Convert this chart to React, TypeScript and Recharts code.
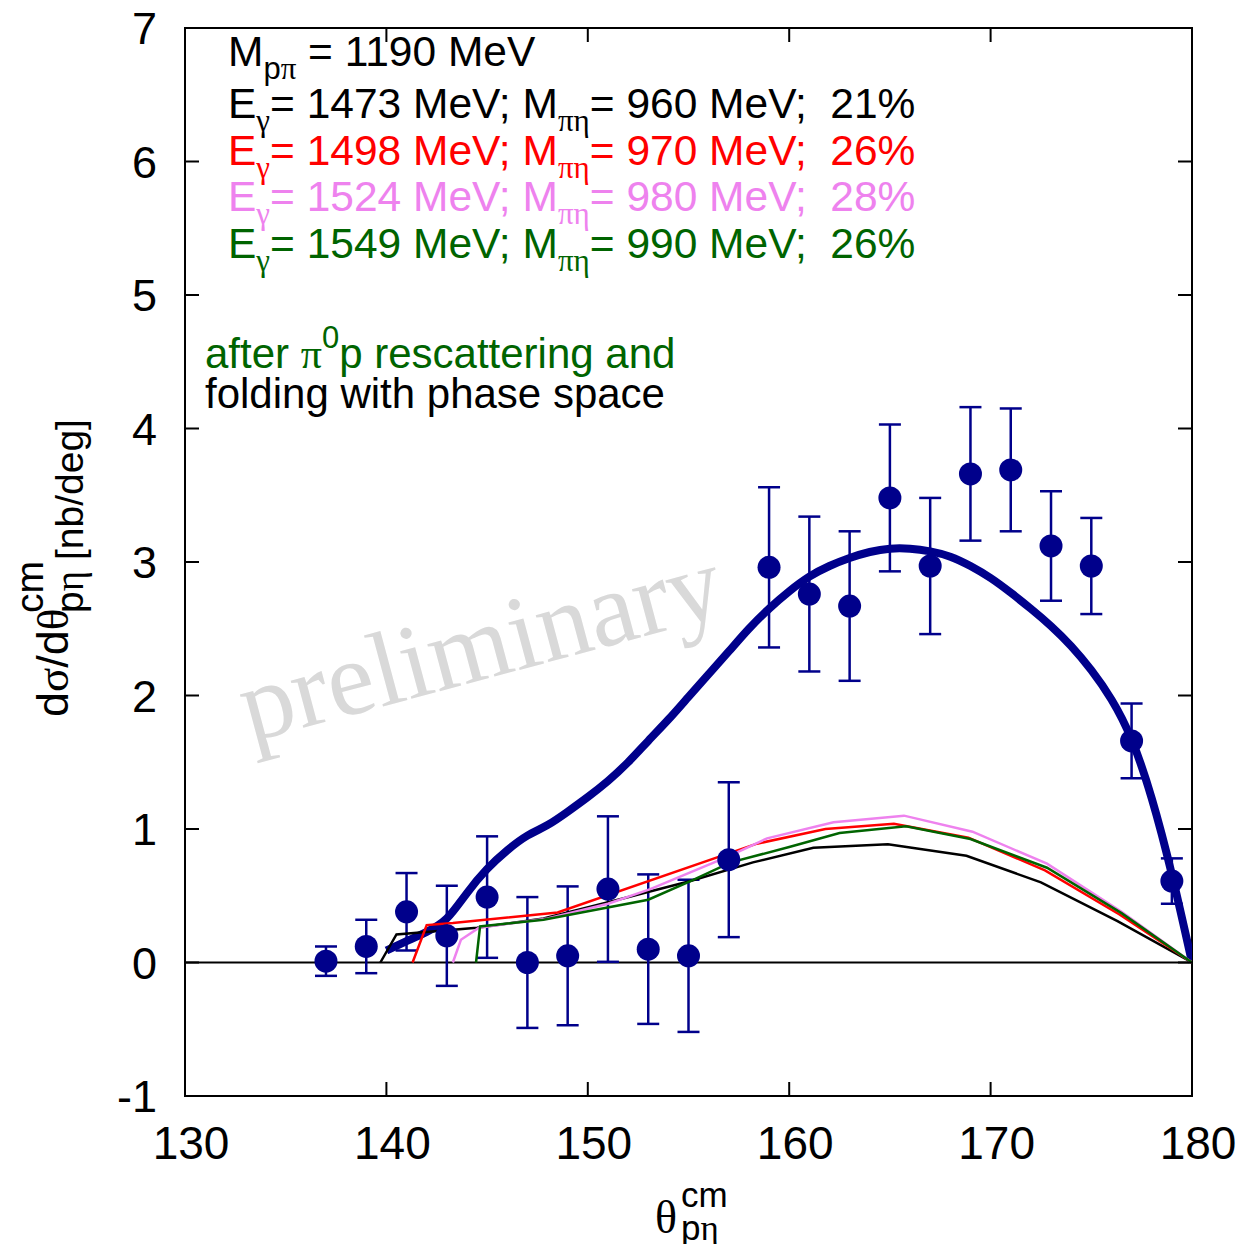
import React from "react";
import {
	ComposedChart,
	XAxis,
	YAxis,
	Line,
	Scatter,
	ErrorBar,
	ReferenceLine,
	ReferenceArea,
} from "recharts";

// measured points (theta in deg, dsigma/dtheta in nb/deg)
const dataTheta = [137, 139, 141, 143, 145, 147, 149, 151, 153, 155, 157, 159, 161, 163, 165, 167, 169, 171, 173, 175, 177, 179];
const dataSigma = [0.01, 0.12, 0.38, 0.2, 0.49, 0.0, 0.05, 0.55, 0.1, 0.05, 0.77, 2.96, 2.76, 2.67, 3.48, 2.97, 3.66, 3.69, 3.12, 2.97, 1.66, 0.61];
const dataErr = [0.11, 0.2, 0.29, 0.375, 0.455, 0.49, 0.52, 0.545, 0.56, 0.57, 0.58, 0.6, 0.58, 0.56, 0.55, 0.51, 0.5, 0.46, 0.41, 0.36, 0.28, 0.17];

// thick navy curve
const fitTheta = [140, 141, 142, 143, 144, 145, 146, 147, 148, 149, 150, 151, 152, 153, 154, 155, 156, 157, 158, 159, 160, 161, 162, 163, 164, 165, 166, 167, 168, 169, 170, 171, 172, 173, 174, 175, 176, 177, 178, 179, 180];
const fitSigma = [0.09, 0.16, 0.23, 0.33, 0.52, 0.7, 0.84, 0.95, 1.03, 1.13, 1.24, 1.36, 1.5, 1.66, 1.82, 1.99, 2.16, 2.33, 2.5, 2.65, 2.78, 2.89, 2.97, 3.03, 3.075, 3.1, 3.1, 3.08, 3.04, 2.97, 2.88, 2.77, 2.65, 2.52, 2.37, 2.19, 1.97, 1.67, 1.23, 0.66, 0.0];

// thin model curves, one per beam energy
const blackTheta = [139.7, 140.5, 144.5, 147.8, 151.5, 155.1, 158.2, 161.2, 164.9, 168.8, 172.5, 176.3, 180];
const blackSigma = [0, 0.21, 0.26, 0.33, 0.47, 0.61, 0.75, 0.86, 0.885, 0.8, 0.6, 0.31, 0];

const redTheta = [141.3, 142.0, 143.3, 148.5, 158.4, 161.8, 165.2, 168.9, 172.7, 176.4, 180];
const redSigma = [0, 0.28, 0.295, 0.375, 0.89, 1.0, 1.04, 0.935, 0.69, 0.36, 0];

const violetTheta = [143.3, 143.7, 144.6, 148.0, 151.0, 153.1, 156.9, 158.9, 162.2, 165.7, 169.1, 172.8, 176.5, 180];
const violetSigma = [0, 0.17, 0.26, 0.33, 0.44, 0.55, 0.79, 0.93, 1.05, 1.1, 0.98, 0.74, 0.38, 0];

const greenTheta = [144.45, 144.65, 147.8, 153.0, 155.1, 157.1, 160.0, 162.5, 165.8, 169.0, 172.8, 176.5, 180];
const greenSigma = [0, 0.27, 0.32, 0.47, 0.61, 0.75, 0.865, 0.97, 1.02, 0.925, 0.71, 0.37, 0];

const xTicks = [130, 140, 150, 160, 170, 180];
const yTicks = [-1, 0, 1, 2, 3, 4, 5, 6, 7];

const legendEnergy = [1473, 1498, 1524, 1549];
const legendMass = [960, 970, 980, 990];
const legendShare = [21, 26, 28, 26];
const legendColors = ["#000000", "#ff0000", "#ee82ee", "#006400"];

const W = 1228;
const H = 1236;
const PL = 177;
const PR = 1184;
const PT = 20;
const PB = 1088;

const SANS = "'Liberation Sans', Arial, Helvetica, sans-serif";
const SERIF = "'Liberation Serif', 'Times New Roman', serif";
const NAVY = "#00008b";

const rows = (xs: number[], ys: number[]) => xs.map((x, i) => ({ x, y: ys[i] }));
const points = dataTheta.map((x, i) => ({ x, y: dataSigma[i], err: dataErr[i] }));

function YTick({ y, payload }: any) {
	return (
		<g>
			<line x1={PL} x2={PL + 14} y1={y} y2={y} stroke="#000" strokeWidth={2} />
			<line x1={PR - 14} x2={PR} y1={y} y2={y} stroke="#000" strokeWidth={2} />
			<text x={PL - 28} y={y} dy={16} textAnchor="end" fontFamily={SANS} fontSize={45} fill="#000">
				{payload.value}
			</text>
		</g>
	);
}

function XTick({ x, payload }: any) {
	return (
		<g>
			<line x1={x} x2={x} y1={PB - 14} y2={PB} stroke="#000" strokeWidth={2} />
			<line x1={x} x2={x} y1={PT} y2={PT + 14} stroke="#000" strokeWidth={2} />
			<text x={x + 6} y={1151} textAnchor="middle" fontFamily={SANS} fontSize={46} fill="#000">
				{payload.value}
			</text>
		</g>
	);
}

function Dot({ cx, cy }: any) {
	return <circle cx={cx} cy={cy} r={11.5} fill={NAVY} />;
}

export default function App() {
	return (
		<div style={{ position: "relative", width: W, height: H }}>
			<svg width={W} height={H} style={{ position: "absolute", left: 0, top: 0 }}>
				<text
					transform="translate(481,670) rotate(-15)"
					textAnchor="middle"
					fontFamily={SERIF}
					fontSize={106}
					fill="#d9d9d9"
				>
					preliminary
				</text>
			</svg>
			<ComposedChart width={W} height={H} margin={{ top: PT, right: W - PR, bottom: 0, left: 0 }}>
				<XAxis
					dataKey="x"
					type="number"
					domain={[130, 180]}
					ticks={xTicks}
					interval={0}
					height={H - PB}
					tickLine={false}
					axisLine={false}
					tick={<XTick />}
					allowDataOverflow
				/>
				<YAxis
					type="number"
					domain={[-1, 7]}
					ticks={yTicks}
					interval={0}
					width={PL}
					tickLine={false}
					axisLine={false}
					tick={<YTick />}
					allowDataOverflow
				/>
				<ReferenceLine y={0} stroke="#000" strokeWidth={2} />
				<Scatter data={points} dataKey="y" shape={<Dot />} isAnimationActive={false}>
					<ErrorBar dataKey="err" direction="y" width={11} stroke={NAVY} strokeWidth={2.5} isAnimationActive={false} />
				</Scatter>
				<Line data={rows(fitTheta, fitSigma)} dataKey="y" type="natural" stroke={NAVY} strokeWidth={8} dot={false} isAnimationActive={false} />
				<Line data={rows(blackTheta, blackSigma)} dataKey="y" type="linear" stroke={legendColors[0]} strokeWidth={2.5} dot={false} isAnimationActive={false} />
				<Line data={rows(redTheta, redSigma)} dataKey="y" type="linear" stroke={legendColors[1]} strokeWidth={2.5} dot={false} isAnimationActive={false} />
				<Line data={rows(violetTheta, violetSigma)} dataKey="y" type="linear" stroke={legendColors[2]} strokeWidth={2.5} dot={false} isAnimationActive={false} />
				<Line data={rows(greenTheta, greenSigma)} dataKey="y" type="linear" stroke={legendColors[3]} strokeWidth={2.5} dot={false} isAnimationActive={false} />
				<ReferenceArea x1={130} x2={180} y1={-1} y2={7} fill="none" fillOpacity={0} stroke="#000" strokeWidth={2} />
			</ComposedChart>
			<svg
				width={W}
				height={H}
				style={{ position: "absolute", left: 0, top: 0, pointerEvents: "none" }}
				fontFamily={SANS}
			>
				<text x={220} y={58} fontSize={42.5} fill="#000">
					M
					<tspan dy={13} fontSize={31}>p</tspan>
					<tspan fontSize={31} fontFamily={SERIF}>π</tspan>
					<tspan dy={-13}>{" = 1190 MeV"}</tspan>
				</text>
				{legendEnergy.map((e, i) => (
					<text key={e} x={220} y={[110, 157, 203, 250][i]} fontSize={42.5} fill={legendColors[i]}>
						E
						<tspan dy={13} fontSize={31} fontFamily={SERIF}>γ</tspan>
						<tspan dy={-13}>{`= ${e} MeV; M`}</tspan>
						<tspan dy={13} fontSize={31} fontFamily={SERIF}>πη</tspan>
						<tspan dy={-13}>{`= ${legendMass[i]} MeV;\u00a0 ${legendShare[i]}%`}</tspan>
					</text>
				))}
				<text x={197} y={360} fontSize={42} fill="#006400">
					{"after "}
					<tspan fontFamily={SERIF}>π</tspan>
					<tspan dy={-20} fontSize={31}>0</tspan>
					<tspan dy={20}>p rescattering and</tspan>
				</text>
				<text x={197} y={400} fontSize={42} fill="#000">
					folding with phase space
				</text>
				<g transform="translate(60,709) rotate(-90)">
					<text x={0} y={0} fontSize={45} fill="#000">
						d<tspan fontFamily={SERIF}>σ</tspan>/d<tspan fontFamily={SERIF}>θ</tspan>
					</text>
					<text x={104} y={-25} fontSize={39} fill="#000">cm</text>
					<text x={104} y={15} fontSize={39} fill="#000">
						p<tspan fontFamily={SERIF}>η</tspan>
						{" [nb/deg]"}
					</text>
				</g>
				<text x={647} y={1225} fontSize={46} fontFamily={SERIF} fill="#000">θ</text>
				<text x={673} y={1199} fontSize={35} fill="#000">cm</text>
				<text x={673} y={1232} fontSize={35} fill="#000">
					p<tspan fontFamily={SERIF}>η</tspan>
				</text>
			</svg>
		</div>
	);
}
